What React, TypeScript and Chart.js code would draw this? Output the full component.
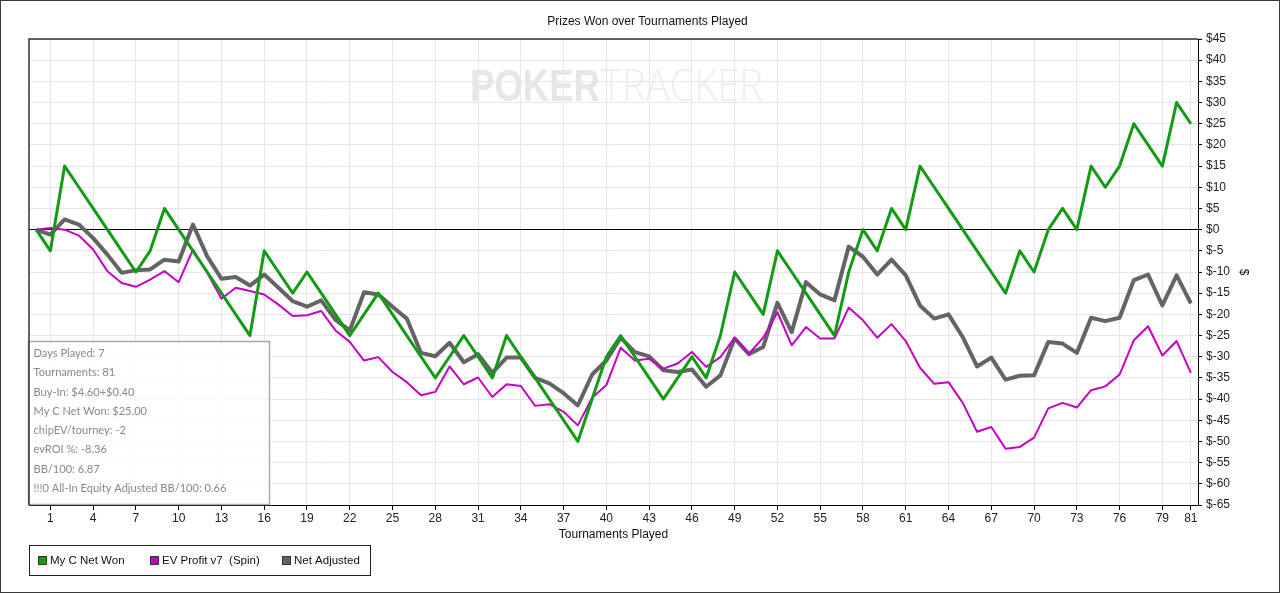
import React, { useEffect, useRef } from 'react';
import { Chart, registerables } from 'chart.js';

Chart.register(...registerables);

// ---- data ----
const chartTitle = 'Prizes Won over Tournaments Played';
const xAxisTitle = 'Tournaments Played';
const yAxisTitle = '$';

const xTicks = [1, 4, 7, 10, 13, 16, 19, 22, 25, 28, 31, 34, 37, 40, 43, 46, 49, 52, 55, 58, 61, 64, 67, 70, 73, 76, 79, 81];
const yMin = -65;
const yMax = 45;
const yStep = 5;

const seriesNames = ['My C Net Won', 'EV Profit v7  (Spin)', 'Net Adjusted'];

const netWon = [
  0, -5, 15, 10, 5, 0, -5, -10, -5, 5,
  0, -5, -10, -15, -20, -25, -5, -10, -15, -10,
  -15, -20, -25, -20, -15, -20, -25, -30, -35, -30,
  -25, -30, -35, -25, -30, -35, -40, -45, -50, -40,
  -30, -25, -30, -35, -40, -35, -30, -35, -25, -10,
  -15, -20, -5, -10, -15, -20, -25, -10, 0, -5,
  5, 0, 15, 10, 5, 0, -5, -10, -15, -5,
  -10, 0, 5, 0, 15, 10, 15, 25, 20, 15,
  30, 25,
];

const evProfit = [
  0, 0.4, 0, -1.4, -4.7, -9.8, -12.6, -13.5, -11.8, -9.8,
  -12.4, -4.7, -10.2, -16.3, -13.7, -14.5, -15.3, -17.7, -20.4, -20.2,
  -19.2, -23.8, -26.5, -30.9, -30.1, -33.6, -36, -39.1, -38.3, -32.3,
  -36.5, -34.9, -39.5, -36.5, -36.9, -41.6, -41.2, -43, -46.2, -39.7,
  -36.7, -27.9, -30.9, -30.5, -32.8, -31.6, -28.9, -32.4, -30.1, -25.5,
  -29.3, -25.5, -19.5, -27.3, -23, -25.7, -25.7, -18.4, -21.4, -25.5,
  -22.3, -26.3, -32.6, -36.4, -36, -40.9, -47.7, -46.6, -51.7, -51.3,
  -49.1, -42.2, -40.9, -42, -37.9, -37, -34.2, -26.1, -22.8, -29.7,
  -26.3, -33.8,
];

const netAdjusted = [
  0, -1.2, 2.4, 1.2, -2, -5.9, -10.2, -9.6, -9.4, -7.1,
  -7.5, 1.2, -6.3, -11.6, -11.2, -13.2, -10.6, -13.7, -16.9, -18.2,
  -16.7, -21.3, -23.8, -14.8, -15.3, -18.2, -21, -29.1, -29.9, -26.7,
  -31.3, -29.4, -33.8, -30.2, -30.2, -35, -36.3, -38.6, -41.5, -34.2,
  -30.9, -25.5, -28.9, -29.9, -33.2, -33.6, -33, -37.1, -34.4, -25.7,
  -29.4, -27.7, -17.3, -24.2, -12.4, -15.3, -16.7, -4, -6.4, -10.6,
  -7.1, -10.8, -17.9, -21, -20, -25.4, -32.3, -30.2, -35.4, -34.5,
  -34.4, -26.5, -26.9, -29.1, -20.8, -21.6, -20.8, -11.9, -10.6, -17.9,
  -10.8, -17.4,
];

const infoLines = [
  'Days Played: 7',
  'Tournaments: 81',
  'Buy-In: $4.60+$0.40',
  'My C Net Won: $25.00',
  'chipEV/tourney: -2',
  'evROI %: -8.36',
  'BB/100: 6.87',
  '!!!0 All-In Equity Adjusted BB/100: 0.66',
];

// ---- styles ----
const COLORS = ['#139b13', '#c400c4', '#646464'];
const WIDTHS = [3, 2, 4];
const SANS = '"Liberation Sans", Arial, sans-serif';

const decorPlugin = {
  id: 'decor',
  beforeDraw(chart: any) {
    const { ctx, width, height } = chart;
    ctx.save();
    ctx.fillStyle = '#ffffff';
    ctx.fillRect(0, 0, width, height);
    // watermark
    ctx.textBaseline = 'alphabetic';
    ctx.textAlign = 'left';
    ctx.font = `bold 44px ${SANS}`;
    let w = ctx.measureText('POKER').width;
    ctx.save();
    ctx.translate(470, 101);
    ctx.scale(130 / w, 1);
    ctx.fillStyle = '#e6e6e6';
    ctx.fillText('POKER', 0, 0);
    ctx.restore();
    ctx.font = '300 44px "Open Sans", sans-serif';
    w = ctx.measureText('TRACKER').width;
    ctx.save();
    ctx.translate(601, 101);
    ctx.scale(162 / w, 1);
    ctx.fillStyle = '#eeeeee';
    ctx.fillText('TRACKER', 0, 0);
    ctx.restore();
    ctx.restore();
  },
  afterDatasetsDraw(chart: any) {
    const { ctx } = chart;
    ctx.save();
    // info box
    ctx.fillStyle = 'rgba(255,255,255,0.78)';
    ctx.fillRect(28.5, 341.5, 241, 163);
    ctx.strokeStyle = '#a9a9a9';
    ctx.lineWidth = 1.5;
    ctx.strokeRect(28.5, 341.5, 241, 163);
    ctx.font = `12px Lato, "Open Sans", sans-serif`;
    const lw = ctx.measureText(infoLines[infoLines.length - 1]).width;
    const fs = Math.max(10, Math.min(13, (12 * 193) / lw));
    ctx.font = `${fs}px Lato, "Open Sans", sans-serif`;
    ctx.fillStyle = '#888888';
    ctx.textBaseline = 'middle';
    ctx.textAlign = 'left';
    infoLines.forEach((t, i) => ctx.fillText(t, 33.5, 353.5 + i * 19.28));
    ctx.restore();
  },
  afterDraw(chart: any) {
    const { ctx, chartArea } = chart;
    ctx.save();
    // plot top/left border
    ctx.strokeStyle = '#333';
    ctx.lineWidth = 1.5;
    ctx.beginPath();
    ctx.moveTo(chartArea.left, chartArea.bottom);
    ctx.lineTo(chartArea.left, chartArea.top);
    ctx.lineTo(chartArea.right, chartArea.top);
    ctx.stroke();
    // outer frame
    ctx.strokeStyle = '#3a3a3a';
    ctx.lineWidth = 1;
    ctx.strokeRect(0.5, 0.5, 1279, 592);
    // titles
    ctx.fillStyle = '#111';
    ctx.textAlign = 'center';
    ctx.textBaseline = 'middle';
    ctx.font = `12px ${SANS}`;
    ctx.fillText(chartTitle, 647.5, 21.5);
    ctx.fillText(xAxisTitle, (chartArea.left + chartArea.right) / 2, 535);
    ctx.save();
    ctx.translate(1243, 272);
    ctx.rotate(Math.PI / 2);
    ctx.fillText(yAxisTitle, 0, 0);
    ctx.restore();
    // legend
    ctx.strokeStyle = '#222';
    ctx.lineWidth = 1;
    ctx.strokeRect(29.5, 545.5, 341, 30);
    const sx = [38.5, 150.5, 282.5];
    ctx.font = `11.5px ${SANS}`;
    ctx.textAlign = 'left';
    seriesNames.forEach((n, i) => {
      ctx.fillStyle = COLORS[i];
      ctx.fillRect(sx[i], 556.5, 8, 8);
      ctx.strokeStyle = '#333';
      ctx.strokeRect(sx[i], 556.5, 8, 8);
      ctx.fillStyle = '#111';
      ctx.fillText(n, sx[i] + 11.5, 561);
    });
    ctx.restore();
  },
};

export default function App() {
  const ref = useRef<HTMLCanvasElement | null>(null);

  useEffect(() => {
    document.body.style.margin = '0';
    if (!ref.current) return;
    const series = [netWon, evProfit, netAdjusted];
    const chart = new Chart(ref.current, {
      type: 'line',
      data: {
        datasets: series.map((s, i) => ({
          label: seriesNames[i],
          data: s.map((y, x) => ({ x, y })),
          borderColor: COLORS[i],
          backgroundColor: COLORS[i],
          borderWidth: WIDTHS[i],
          pointRadius: 0,
          tension: 0,
          fill: false,
          borderJoinStyle: 'round' as const,
        })),
      },
      options: {
        responsive: false,
        animation: false,
        events: [],
        layout: { padding: { left: 29, top: 39, right: 0, bottom: 0 } },
        plugins: {
          legend: { display: false },
          title: { display: false },
          tooltip: { enabled: false },
        },
        scales: {
          x: {
            type: 'linear',
            min: -0.5,
            max: 81.5,
            afterBuildTicks: (s: any) => {
              s.ticks = xTicks.map((v) => ({ value: v }));
            },
            afterFit: (s: any) => {
              s.height = 88;
            },
            grid: { color: '#e6e6e6', lineWidth: 1, tickLength: 5, tickColor: '#000', drawTicks: true },
            border: { display: true, color: '#000', width: 1 },
            ticks: {
              autoSkip: false,
              maxRotation: 0,
              padding: 1,
              color: '#222',
              font: { family: SANS, size: 12 },
              callback: (v: any) => String(v),
            },
          },
          y: {
            type: 'linear',
            position: 'right',
            min: yMin,
            max: yMax,
            afterFit: (s: any) => {
              s.width = 82;
            },
            grid: {
              color: (c: any) => (c.tick && c.tick.value === 0 ? '#000' : '#e6e6e6'),
              lineWidth: 1,
              tickLength: 4,
              tickColor: '#000',
            },
            border: { display: true, color: '#000', width: 1 },
            ticks: {
              stepSize: yStep,
              autoSkip: false,
              padding: 4,
              color: '#222',
              font: { family: SANS, size: 12 },
              callback: (v: any) => '$' + v,
            },
          },
        },
      },
      plugins: [decorPlugin],
    });
    return () => chart.destroy();
  }, []);

  return (
    <div style={{ width: 1280, height: 593 }}>
      <canvas ref={ref} width={1280} height={593} style={{ display: 'block' }} />
    </div>
  );
}
